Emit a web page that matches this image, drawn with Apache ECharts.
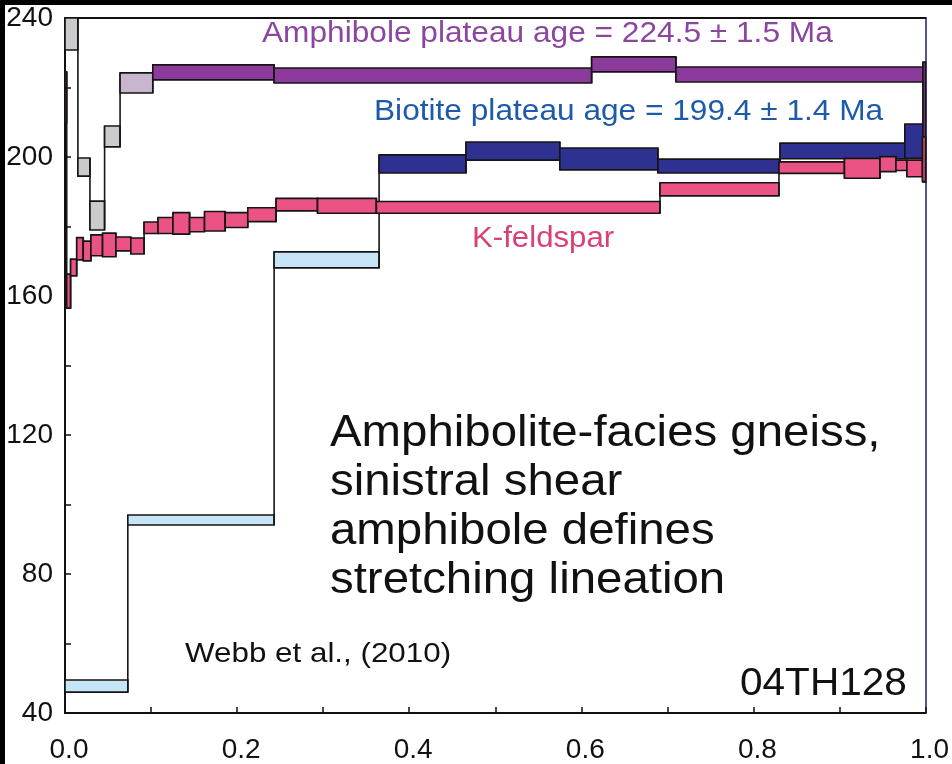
<!DOCTYPE html>
<html><head><meta charset="utf-8">
<script src="https://cdn.jsdelivr.net/npm/echarts@6/dist/echarts.min.js"></script>
<style>html,body{margin:0;padding:0;background:#fff}#c{width:952px;height:764px}</style>
</head><body><div id="c"></div>
<script>
// ---- Data (cumulative 39Ar fraction edges, age box low/high in Ma) ----
// status: 0 = excluded step, 1 = transitional step, 2 = plateau step
const amphEdges  = [0, 0.015, 0.029, 0.046, 0.064, 0.102, 0.243, 0.612, 0.710, 0.997, 1.0];
const amphLo     = [230.8, 194.5, 179.0, 202.9, 218.4, 222.2, 221.3, 224.5, 221.6, 192.8];
const amphHi     = [246.0, 199.7, 187.3, 208.9, 224.2, 226.5, 225.6, 228.8, 225.9, 227.3];
const amphStatus = [0, 0, 0, 0, 1, 2, 2, 2, 2, 2];

const bioEdges   = [0, 0.073, 0.243, 0.365, 0.466, 0.575, 0.689, 0.831, 0.976, 0.998];
const bioLo      = [46.0, 94.1, 168.1, 195.4, 199.1, 196.3, 195.4, 199.5, 199.6];
const bioHi      = [49.5, 97.0, 172.7, 200.6, 204.3, 202.6, 199.4, 204.0, 209.5];
const bioStatus  = [0, 0, 0, 2, 2, 2, 2, 2, 2];

const kfsEdges   = [0, 0.002, 0.0065, 0.0136, 0.0212, 0.0301, 0.0437, 0.0591, 0.0765, 0.0919,
                    0.1081, 0.1255, 0.1448, 0.1622, 0.1862, 0.2124, 0.2453, 0.2935, 0.3619,
                    0.6914, 0.8297, 0.9058, 0.9471, 0.9656, 0.9784, 0.9965, 1.0];
const kfsLo      = [209.8, 156.5, 165.8, 170.4, 170.1, 171.6, 171.3, 173.0, 172.1, 178.0,
                    178.0, 177.8, 178.5, 178.7, 179.7, 181.4, 184.5, 183.8, 183.8,
                    188.8, 195.3, 193.9, 195.8, 196.1, 194.3, 192.9];
const kfsHi      = [224.5, 166.3, 170.6, 176.8, 175.8, 177.6, 178.1, 177.0, 176.7, 181.3,
                    182.6, 184.0, 182.6, 184.3, 184.0, 185.4, 188.1, 188.1, 187.2,
                    192.6, 198.6, 199.6, 200.1, 199.1, 199.1, 205.8];
const kfsStatus  = kfsLo.map(() => 2);

const xTicks = [0, 0.2, 0.4, 0.6, 0.8, 1.0];
const yTicks = [40, 80, 120, 160, 200, 240];

const amphLabel = 'Amphibole plateau age = 224.5 ± 1.5 Ma';
const bioLabel  = 'Biotite plateau age = 199.4 ± 1.4 Ma';
const kfsLabel  = 'K-feldspar';
const noteLines = ['Amphibolite-facies gneiss,', 'sinistral shear', 'amphibole defines', 'stretching lineation'];
const refLabel  = 'Webb et al., (2010)';
const sampleLabel = '04TH128';

// ---- styles ----
const palettes = {
  amph: ['#cbcacc', '#c8b6cf', '#8c3a9b'],
  bio:  ['#c6e5f6', '#c6e5f6', '#2e3190'],
  kfs:  ['#ec5385', '#ec5385', '#ec5385']
};
const FONT = '"Liberation Sans", Arial, Helvetica, sans-serif';

function boxSeries(name, edges, lo, hi, status, pal, z) {
  const data = lo.map((l, i) => [edges[i], edges[i + 1], l, hi[i],
    i > 0 ? lo[i - 1] : l, i > 0 ? hi[i - 1] : hi[i], i, status[i]]);
  return {
    type: 'custom', name: name, z: z,
    data: data,
    encode: { x: [0, 1], y: [2, 3] },
    renderItem: function (params, api) {
      const x0 = api.value(0), x1 = api.value(1), l = api.value(2), h = api.value(3);
      const pl = api.value(4), ph = api.value(5), idx = api.value(6), st = api.value(7);
      const cs = params.coordSys;
      const a = api.coord([x0, h]), b = api.coord([x1, l]);
      const children = [];
      if (idx > 0) {
        const top = api.coord([x0, Math.max(h, ph)]);
        const bot = api.coord([x0, Math.min(l, pl)]);
        const y1 = Math.max(top[1], cs.y);
        children.push({ type: 'line', shape: { x1: top[0], y1: y1, x2: bot[0], y2: bot[1] },
          style: { stroke: '#151515', lineWidth: 1.6 } });
      }
      const r = echarts.graphic.clipRectByRect(
        { x: a[0], y: a[1], width: b[0] - a[0], height: b[1] - a[1] },
        { x: cs.x, y: cs.y, width: cs.width, height: cs.height });
      if (r) children.push({ type: 'rect', shape: r,
        style: { fill: pal[st], stroke: '#151515', lineWidth: 1.6 } });
      return { type: 'group', children: children };
    }
  };
}

const chart = echarts.init(document.getElementById('c'), null, { renderer: 'canvas' });
const txt = (text, x, y, size, color, sx) => ({
  type: 'text', x: x, y: y, scaleX: sx, z: 100,
  style: { text: text, fontSize: size, fontFamily: FONT, fill: color, align: 'left', verticalAlign: 'middle' }
});

chart.setOption({
  backgroundColor: '#ffffff',
  animation: false,
  grid: { left: 65, right: 24, top: 18, bottom: 51, containLabel: false },
  xAxis: [{
    type: 'value', min: 0, max: 1, interval: 0.1,
    axisLine: { show: true, onZero: false, lineStyle: { color: '#111', width: 2 } },
    axisTick: { show: true, inside: true, length: 6, lineStyle: { color: '#111', width: 1.5 } },
    splitLine: { show: false },
    axisLabel: {
      margin: 23, fontSize: 28, fontFamily: FONT, color: '#111', padding: [0, 0, 0, 8],
      formatter: v => xTicks.some(t => Math.abs(t - v) < 1e-6) ? v.toFixed(1) : ''
    }
  }, {
    type: 'value', min: 0, max: 1, position: 'top',
    axisLine: { show: true, onZero: false, lineStyle: { color: '#111', width: 2 } },
    axisTick: { show: false }, axisLabel: { show: false }, splitLine: { show: false }
  }],
  yAxis: [{
    type: 'value', min: 40, max: 240, interval: 20,
    axisLine: { show: true, onZero: false, lineStyle: { color: '#111', width: 2 } },
    axisTick: { show: true, inside: true, length: 6, lineStyle: { color: '#111', width: 1.5 } },
    splitLine: { show: false },
    axisLabel: {
      margin: 12, fontSize: 28, fontFamily: FONT, color: '#111',
      formatter: v => yTicks.indexOf(v) >= 0 ? String(v) : ''
    }
  }, {
    type: 'value', min: 40, max: 240, position: 'right',
    axisLine: { show: true, onZero: false, lineStyle: { color: '#2a2a7a', width: 1.6 } },
    axisTick: { show: false }, axisLabel: { show: false }, splitLine: { show: false }
  }],
  series: [
    boxSeries('Biotite', bioEdges, bioLo, bioHi, bioStatus, palettes.bio, 2),
    boxSeries('Amphibole', amphEdges, amphLo, amphHi, amphStatus, palettes.amph, 3),
    boxSeries('K-feldspar', kfsEdges, kfsLo, kfsHi, kfsStatus, palettes.kfs, 4)
  ],
  graphic: [
    { type: 'rect', shape: { x: 0, y: 0, width: 5, height: 764 }, style: { fill: '#000' }, z: 200 },
    { type: 'rect', shape: { x: 0, y: 0, width: 952, height: 5 }, style: { fill: '#000' }, z: 200 },
    txt(amphLabel, 262, 34, 30, '#8c46a0', 1.055),
    txt(bioLabel, 374, 112, 30, '#1e5aaa', 1.055),
    txt(kfsLabel, 472, 239, 30, '#d74178', 1.04),
    txt(noteLines[0], 330, 434, 44, '#111', 1.077),
    txt(noteLines[1], 330, 483, 44, '#111', 1.077),
    txt(noteLines[2], 330, 532, 44, '#111', 1.077),
    txt(noteLines[3], 330, 581, 44, '#111', 1.077),
    txt(refLabel, 185, 654, 28, '#111', 1.12),
    txt(sampleLabel, 740, 684, 39, '#111', 1.04)
  ]
});
</script>
</body></html>
